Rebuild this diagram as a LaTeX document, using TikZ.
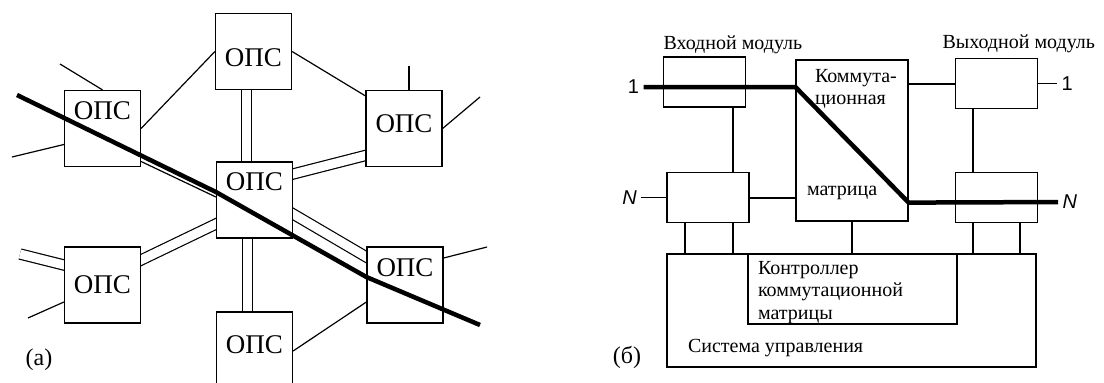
\documentclass[tikz,border=0pt]{standalone}
\usepackage{fontspec}
\setmainfont{Liberation Serif}
\setsansfont{Liberation Sans}
\usepackage{tikz}
\usetikzlibrary{positioning, calc, backgrounds}

\begin{document}
\begin{tikzpicture}[x=1pt, y=-1pt, line width=1.2pt,
  ops/.style={draw, fill=white, minimum width=76, minimum height=76, inner sep=0pt, font=\fontsize{27}{30}\selectfont},
  dbl/.style={double, double distance=9pt, shorten <=-4pt, shorten >=-4pt},
  route/.style={line width=4.5pt, line join=round},
  box/.style={draw, inner sep=0pt},
  module/.style={box, minimum width=82, minimum height=50},
  link/.style={line width=2pt},
  txt/.style={inner sep=0pt, font=\fontsize{20}{22.5}\selectfont},
  port/.style={inner sep=4pt, font=\sffamily\fontsize{20}{22}\selectfont},
  tag/.style={inner sep=0pt, font=\fontsize{24}{26}\selectfont}]
  \path[use as bounding box] (0,0) rectangle (1104,383);
  \clip (0,0) rectangle (1104,383);

  % (a)
  \node[ops, text height=31pt] (t) at (253.5,51.5) {ОПС};
  \node[ops, text depth=36pt] (l) at (102.5,128.5) {ОПС};
  \node[ops, text depth=36pt] (c) at (254.5,200) {ОПС};
  \node[ops, text depth=10pt] (r) at (404,128.5) {ОПС};
  \node[ops] (ll) at (102.5,285) {ОПС};
  \node[ops, text depth=34pt] (lr) at (405,285) {ОПС};
  \node[ops, minimum height=78, text depth=12pt] (b) at (254.5,351) {ОПС};
  \coordinate (l1) at (60,64);
  \coordinate (l2) at (12,157);
  \coordinate (r1) at (409,66);
  \coordinate (r2) at (480,97);
  \coordinate (ll1) at (20,254);
  \coordinate (ll2) at (28,318);
  \coordinate (lr1) at (487,247);
  \coordinate (a0) at (17,95);
  \coordinate (a1) at (480,325);
  \node[tag] (la) at (39,360) {(a)};

  \begin{scope}[on background layer]
  \begin{scope}[line width=1.2pt]
    \fill[white] (0,0) rectangle (1104,383);
    \draw (l.north) -- (l1);
    \draw ([yshift=-16pt]l.west) -- (l2);
    \draw (l.east) -- (t.west);
    \draw[dbl] ([xshift=-7pt]t.south) -- ([xshift=-7pt]t.south |- c.north);
    \draw (t.east) -- ([yshift=-6pt]r.north west);
    \draw ([xshift=5pt]r.north) -- (r1);
    \draw (r.east) -- (r2);
    \draw[dbl] ([yshift=26pt]c.east) -- ([yshift=-27pt]r.west);
    \draw ([yshift=-33pt]l.east) -- ([yshift=3pt]c.west);
    \draw[dbl] ([yshift=-14pt]c.east) -- ([yshift=28pt]lr.west);
    \draw[dbl] ([yshift=25pt]ll.east) -- ([yshift=-24pt]c.west);
    \draw[dbl, shorten >=0pt] ([yshift=20pt]ll.west) -- (ll1);
    \draw ([yshift=-17pt]ll.west) -- (ll2);
    \draw[dbl] ([xshift=-7pt]c.south) -- ([xshift=-7pt]c.south |- b.north);
    \draw ([yshift=-17pt]lr.west) -- (b.east);
    \draw ([yshift=27pt]lr.east) -- (lr1);
  \end{scope}
  \end{scope}
  \draw[route] (a0) -- ([yshift=8pt]c.west) -- ([yshift=8pt]lr.west) -- (a1);

  % (b)
  \node[module] (in1) at (704.5,82) {};
  \node[module] (inN) at (708,197.5) {};
  \node[box, minimum width=112, minimum height=161] (mx) at (852,140.5) {};
  \node[module] (out1) at (996.5,83.5) {};
  \node[module] (outN) at (996.5,197.5) {};
  \node[box, minimum width=369, minimum height=113] (sys) at (851.5,310.5) {};
  \node[box, minimum width=209, minimum height=70] (ctl) at (852.5,289) {};

  \node[txt, anchor=base west] (intitle) at ([yshift=7pt]in1.north west) {Входной модуль};
  \node[txt, anchor=base west] (outtitle) at ([xshift=-13pt, yshift=9pt]out1.north west) {Выходной модуль};
  \node[txt, anchor=north west, align=left] (mxtop) at ([xshift=19pt, yshift=-9pt]mx.north west) {Коммута-\\ционная};
  \node[txt, anchor=base west] (mxbot) at ([xshift=11pt, yshift=26pt]mx.south west) {матрица};
  \node[txt, anchor=north west, align=left] (ctltxt) at ([xshift=10pt, yshift=-7pt]ctl.north west) {Контроллер\\коммутационной\\матрицы};
  \node[txt, anchor=base west] (systxt) at ([xshift=21pt, yshift=15pt]sys.south west) {Система управления};

  \node[port] (p1) at (633.5,87) {1};
  \node[port, left=25pt of inN] (pN1) {\itshape N};
  \node[port, right=19pt of out1] (po1) {1};
  \node[port, anchor=west] (pN2) at (1058,202) {\itshape N};
  \node[tag] (lb) at (627,357) {(б)};

  \draw[link] ([xshift=28pt]in1.south) -- ([xshift=28pt]in1.south |- inN.north);
  \draw[link] (inN.east) -- (inN.east -| mx.west);
  \draw[link] (out1.west -| mx.east) -- (out1.west);
  \draw (out1.east) -- (po1);
  \draw (pN1) -- (inN.west);
  \draw[link] ([xshift=-23.5pt]out1.south) -- ([xshift=-23.5pt]out1.south |- outN.north);
  \draw[link] ([xshift=-23pt]inN.south) -- ([xshift=-23pt]inN.south |- sys.north);
  \draw[link] ([xshift=25pt]inN.south) -- ([xshift=25pt]inN.south |- sys.north);
  \draw (mx.south) -- (mx.south |- ctl.north);
  \draw[link] ([xshift=-23.5pt]outN.south) -- ([xshift=-23.5pt]outN.south |- sys.north);
  \draw[link] ([xshift=23.5pt]outN.south) -- ([xshift=23.5pt]outN.south |- sys.north);
  \draw[route] (p1) -- (p1 -| mx.west) -- ([yshift=19pt]mx.south east) -- (pN2);
\end{tikzpicture}
\end{document}
